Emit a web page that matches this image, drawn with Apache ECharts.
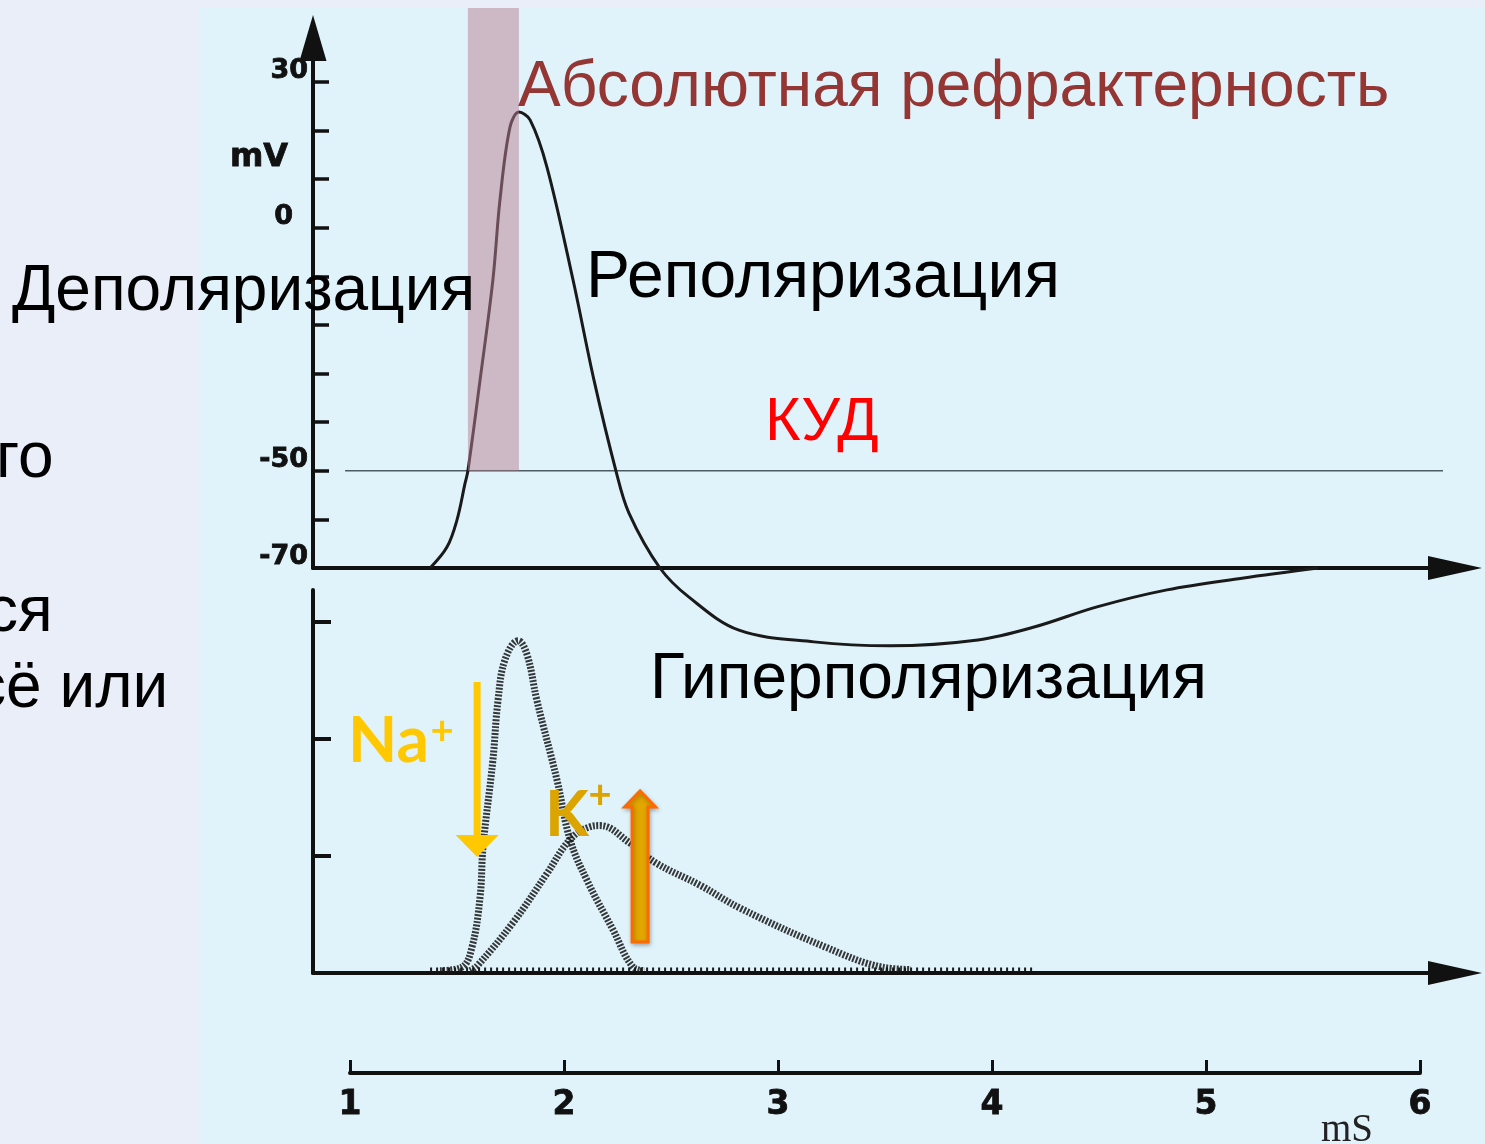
<!DOCTYPE html>
<html>
<head>
<meta charset="utf-8">
<script src="https://cdn.jsdelivr.net/npm/echarts@6/dist/echarts.min.js"></script>
<style>
  html, body { margin: 0; padding: 0; background: #eaeef9; }
  #chart { width: 1485px; height: 1144px; }
</style>
</head>
<body>
<div id="chart"></div>
<script>
// Membrane potential during one action potential (time in ms, potential in mV)
const apTime = [1.375, 1.454, 1.501, 1.539, 1.552, 1.609, 1.669, 1.702, 1.749, 1.791, 1.843, 1.922,
                2.044, 2.142, 2.245, 2.306, 2.451, 2.587, 2.821, 3.172, 3.528, 3.940, 4.207, 4.497,
                4.825, 5.176, 5.532];
const apVoltage = [-70, -65.7, -60.1, -52.5, -50, -31.3, -10.7, 5.7, 20.7, 23.8, 22.2, 12.5,
                   -10.7, -31.3, -50, -58.7, -70, -76, -82.8, -85.2, -86, -84.8, -82.1, -78,
                   -74.5, -72.1, -70];

// Ionic conductances (relative units)
const naTime = [1.421, 1.524, 1.571, 1.609, 1.623, 1.669, 1.693, 1.726, 1.787, 1.829, 1.875, 1.969,
                2.030, 2.110, 2.231, 2.325, 2.381];
const naConductance = [0.02, 0.05, 0.22, 0.65, 1.08, 1.82, 2.33, 2.68, 2.84, 2.72, 2.33, 1.65,
                       1.14, 0.79, 0.37, 0.05, 0.02];
const kTime = [1.562, 1.595, 1.763, 1.922, 2.030, 2.124, 2.170, 2.311, 2.433, 2.639, 2.831, 3.228,
               3.491, 3.626];
const kConductance = [0.02, 0.06, 0.43, 0.85, 1.14, 1.25, 1.26, 1.11, 0.94, 0.75, 0.55, 0.22,
                      0.05, 0.03];
const restTime = [1.375, 4.2];
const restConductance = [0.03, 0.03];

// Threshold (КУД) and absolute refractory period
const thresholdTime = [0.977, 6.117];
const thresholdVoltage = -50;
const refractoryTime = [1.552, 1.791];
const refractoryVoltage = [-50, 45.2];

// Ion flow arrows: [time, from, to]
const naArrow = [1.595, 2.487, 0.991];
const kArrow = [2.358, 0.265, 1.556];

// Axis ticks and labels
const voltageTicks = [-60, -50, -40, -30, -20, -10, 0, 10, 20, 30];
const voltageLabels = [30, 0, -50, -70];
const unitLabelAt = 12;
const conductanceTicks = [1, 2, 3];
const timeTicks = [1, 2, 3, 4, 5, 6];

// ---- layout ----
const PX_PER_MS = 213.6;
const AXIS_X = 313;
const X_MIN = 1 - (350 - AXIS_X) / PX_PER_MS;
const X_MAX = 1 + (1455 - 350) / PX_PER_MS;
const AXIS_W = 1142;
const INK = '#111';
const TICK_FONT = 'DejaVu Sans';
const TEXT_FONT = '"Liberation Sans"';

const zip = (a, b) => a.map((v, i) => [v, b[i]]);

const chart = echarts.init(document.getElementById('chart'), null, { renderer: 'canvas' });

const hiddenX = (gridIndex, arrow) => ({
  type: 'value', gridIndex, min: X_MIN, max: X_MAX,
  axisLine: {
    show: true, onZero: false,
    symbol: arrow ? ['none', 'triangle'] : 'none', symbolSize: [24, 54],
    lineStyle: { color: INK, width: 4 }
  },
  axisTick: { show: false }, axisLabel: { show: false }, splitLine: { show: false }
});

const tickText = size => ({
  fontSize: size, fontWeight: 'bold', fontFamily: TICK_FONT, color: INK,
  textBorderColor: INK, textBorderWidth: 0.8
});

const caption = (text, x, y, size, color) => ({
  type: 'text', z: 100, x, y, silent: true,
  style: { text, font: size + 'px ' + TEXT_FONT, fill: color, verticalAlign: 'middle' }
});

const option = {
  backgroundColor: '#eaeef9',
  animation: false,
  grid: [
    { left: AXIS_X, top: 38, width: AXIS_W, height: 530 },
    { left: AXIS_X, top: 590, width: AXIS_W, height: 383 },
    { left: 350, top: 1060, width: 1070, height: 13 }
  ],
  xAxis: [
    hiddenX(0, true),
    hiddenX(1, true),
    {
      type: 'value', gridIndex: 2, min: 1, max: 6, interval: 1,
      axisLine: { show: true, onZero: false, lineStyle: { color: INK, width: 4 } },
      axisTick: { show: true, inside: true, length: 13, lineStyle: { color: INK, width: 3 } },
      axisLabel: Object.assign({ show: true, margin: 16, customValues: timeTicks }, tickText(33)),
      splitLine: { show: false }
    }
  ],
  yAxis: [
    {
      type: 'value', gridIndex: 0, min: -70, max: 39.05,
      axisLine: {
        show: true, onZero: false, symbol: ['none', 'triangle'], symbolSize: [27, 46],
        lineStyle: { color: INK, width: 4 }
      },
      axisTick: { show: true, inside: true, length: 16, customValues: voltageTicks,
                  lineStyle: { color: INK, width: 3.5 } },
      axisLabel: {
        show: true, margin: 5, verticalAlign: 'bottom',
        customValues: voltageLabels.concat([unitLabelAt]),
        formatter: v => (v === unitLabelAt ? '{u|mV}' : v === 0 ? '{w|0}' : '{n|' + v + '}'),
        rich: {
          n: Object.assign(tickText(27), { lineHeight: 22 }),
          w: Object.assign(tickText(27), { lineHeight: 22, padding: [0, 15, 0, 0] }),
          u: Object.assign(tickText(32), { lineHeight: 24, padding: [0, 20, 0, 0] })
        }
      },
      splitLine: { show: false }
    },
    {
      type: 'value', gridIndex: 1, min: 0, max: 383 / 117,
      axisLine: { show: true, onZero: false, lineStyle: { color: INK, width: 4 } },
      axisTick: { show: true, inside: true, length: 18, customValues: conductanceTicks,
                  lineStyle: { color: INK, width: 4 } },
      axisLabel: { show: false }, splitLine: { show: false }
    },
    { type: 'value', gridIndex: 2, show: false, min: 0, max: 1 }
  ],
  series: [
    {
      name: 'threshold', type: 'line', xAxisIndex: 0, yAxisIndex: 0,
      data: thresholdTime.map(t => [t, thresholdVoltage]),
      symbol: 'none', clip: false, z: 2,
      lineStyle: { color: '#4f5b63', width: 1.6 }
    },
    {
      name: 'potential', type: 'line', xAxisIndex: 0, yAxisIndex: 0,
      data: zip(apTime, apVoltage), smooth: 0.35, symbol: 'none', clip: false, z: 3,
      lineStyle: { color: '#1a1a1a', width: 3 }
    },
    {
      name: 'refractory', type: 'custom', xAxisIndex: 0, yAxisIndex: 0, z: 4, clip: false,
      data: [[refractoryTime[0], refractoryTime[1], refractoryVoltage[0], refractoryVoltage[1]]],
      encode: { x: [0, 1], y: [2, 3] },
      renderItem: (params, api) => {
        const p0 = api.coord([api.value(0), api.value(2)]);
        const p1 = api.coord([api.value(1), api.value(3)]);
        return {
          type: 'rect',
          shape: { x: p0[0], y: p1[1], width: p1[0] - p0[0], height: p0[1] - p1[1] },
          style: { fill: 'rgba(185,128,146,0.5)' }
        };
      }
    },
    {
      name: 'rest', type: 'line', xAxisIndex: 1, yAxisIndex: 1,
      data: zip(restTime, restConductance), symbol: 'none', clip: false,
      lineStyle: { color: '#1a1a1a', width: 4, type: [2, 4] }
    },
    {
      name: 'Na', type: 'line', xAxisIndex: 1, yAxisIndex: 1,
      data: zip(naTime, naConductance), smooth: 0.4, symbol: 'none', clip: false,
      lineStyle: { color: '#161616', width: 7, type: [2, 1.5], opacity: 0.85 }
    },
    {
      name: 'K', type: 'line', xAxisIndex: 1, yAxisIndex: 1,
      data: zip(kTime, kConductance), smooth: 0.4, symbol: 'none', clip: false,
      lineStyle: { color: '#161616', width: 7, type: [2, 1.5], opacity: 0.85 }
    },
    {
      name: 'flow', type: 'custom', xAxisIndex: 1, yAxisIndex: 1, z: 6, clip: false,
      data: [naArrow.concat([0]), kArrow.concat([1])],
      encode: { x: 0, y: [1, 2] },
      renderItem: (params, api) => {
        const tail = api.coord([api.value(0), api.value(1)]);
        const tip = api.coord([api.value(0), api.value(2)]);
        const x = tip[0];
        const dir = tip[1] > tail[1] ? 1 : -1;
        if (api.value(3) === 0) {
          const headLen = 22, headHalf = 21.5;
          const base = tip[1] - dir * headLen;
          return {
            type: 'group',
            children: [
              { type: 'line', shape: { x1: x, y1: tail[1], x2: x, y2: base },
                style: { stroke: '#ffc800', lineWidth: 7 } },
              { type: 'polygon', shape: { points: [[x - headHalf, base], [x + headHalf, base], [x, tip[1]]] },
                style: { fill: '#ffc800' } }
            ]
          };
        }
        const headLen = 16, headHalf = 15.5, shaftHalf = 8;
        const base = tip[1] - dir * headLen;
        return {
          type: 'polygon',
          shape: {
            points: [[x - shaftHalf, tail[1]], [x - shaftHalf, base], [x - headHalf, base], [x, tip[1]],
                     [x + headHalf, base], [x + shaftHalf, base], [x + shaftHalf, tail[1]]]
          },
          style: { fill: '#e2a600', stroke: '#ff6a00', lineWidth: 3, lineJoin: 'miter',
                   shadowBlur: 4, shadowColor: 'rgba(0,0,0,0.25)', shadowOffsetX: 1, shadowOffsetY: 2 }
        };
      }
    }
  ],
  graphic: [
    { type: 'rect', z: -100, silent: true, shape: { x: 200, y: 8, width: 1285, height: 1136 },
      style: { fill: '#e0f3fb' } },
    // slide text cut by the left edge
    caption('го', -4, 459, 64, '#000'),
    caption('ся', -14, 613, 64, '#000'),
    caption('сё или', -26, 689, 64, '#000'),
    // phase captions
    caption('Абсолютная рефрактерность', 518, 88, 64, '#943634'),
    caption('Деполяризация', 12, 292, 64, '#000'),
    caption('Реполяризация', 586, 279, 66, '#000'),
    caption('КУД', 765, 423, 61, '#ff0000'),
    caption('Гиперполяризация', 650, 680, 64, '#000'),
    // ions
    { type: 'text', z: 100, x: 348, y: 741, style: { text: 'Na', font: 'bold 64px Lato', fill: '#ffc800', verticalAlign: 'middle' } },
    { type: 'text', z: 100, x: 442, y: 731, style: { text: '+', font: 'bold 40px Lato', fill: '#ffc800', align: 'center', verticalAlign: 'middle' } },
    { type: 'text', z: 100, x: 545, y: 815, style: { text: 'K', font: 'bold 64px Lato', fill: '#dca400', verticalAlign: 'middle' } },
    { type: 'text', z: 100, x: 600, y: 795, style: { text: '+', font: 'bold 40px Lato', fill: '#dca400', align: 'center', verticalAlign: 'middle' } },
    // time unit
    { type: 'text', z: 100, x: 1321, y: 1131, style: { text: 'mS', font: '39px "Liberation Serif"', fill: '#222', verticalAlign: 'middle' } }
  ]
};

chart.setOption(option);
</script>
</body>
</html>
